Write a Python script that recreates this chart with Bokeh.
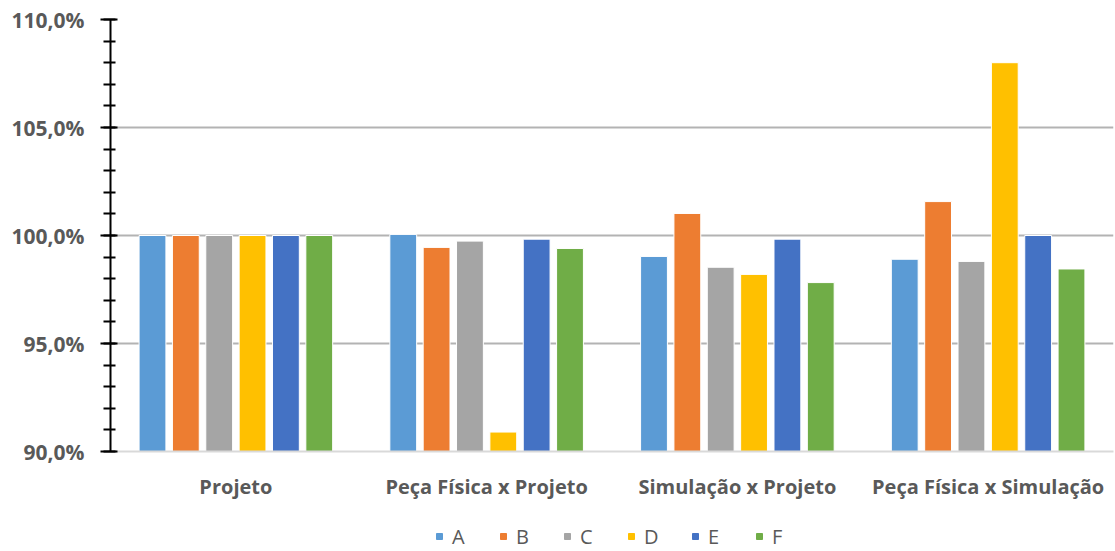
from bokeh.plotting import figure
from bokeh.layouts import column
from bokeh.models import (ColumnDataSource, FactorRange, Range1d, Legend, LegendItem,
                          SingleIntervalTicker)
from bokeh.transform import dodge
from bokeh.embed import file_html
from bokeh.resources import INLINE

categories = ["Projeto", "Peça Física x Projeto", "Simulação x Projeto", "Peça Física x Simulação"]
series = ["A", "B", "C", "D", "E", "F"]
A = [100.0, 100.05, 99.03, 98.9]
B = [100.0, 99.45, 101.02, 101.57]
C = [100.0, 99.74, 98.53, 98.8]
D = [100.0, 90.9, 98.2, 108.0]
E = [100.0, 99.83, 99.83, 100.0]
F = [100.0, 99.4, 97.82, 98.45]
colors = ["#5B9BD5", "#ED7D31", "#A5A5A5", "#FFC000", "#4472C4", "#70AD47"]
y_ticks = [90, 95, 100, 105, 110]
y_tick_labels = ["90,0%", "95,0%", "100,0%", "105,0%", "110,0%"]

source = ColumnDataSource(dict(cat=categories, A=A, B=B, C=C, D=D, E=E, F=F))

FONT = "Open Sans"
TXT = "#595959"

p = figure(frame_width=1003, frame_height=432, output_backend="svg", toolbar_location=None,
           x_range=FactorRange(*categories), y_range=Range1d(90, 110),
           min_border_left=110, min_border_right=2, min_border_top=19, min_border_bottom=70)
p.outline_line_color = None

pitch = 0.133
for i, s in enumerate(series):
    off = (i - 2.5) * pitch
    p.vbar(x=dodge("cat", off, range=p.x_range), top=s, bottom=90, width=0.107,
           source=source, fill_color=colors[i], line_color="white", line_width=1)

# y axis
p.yaxis.ticker = SingleIntervalTicker(interval=5, num_minor_ticks=5)
p.yaxis.major_label_overrides = {t: l for t, l in zip(y_ticks, y_tick_labels)}
p.yaxis.axis_line_color = "black"
p.yaxis.axis_line_width = 2
p.yaxis.major_tick_line_color = "black"
p.yaxis.major_tick_line_width = 2
p.yaxis.minor_tick_line_color = "black"
p.yaxis.minor_tick_line_width = 2
p.yaxis.major_tick_in = 7
p.yaxis.major_tick_out = 10
p.yaxis.minor_tick_in = 5
p.yaxis.minor_tick_out = 7
p.yaxis.major_label_text_font = FONT
p.yaxis.major_label_text_font_style = "bold"
p.yaxis.major_label_text_font_size = "21px"
p.yaxis.major_label_text_color = TXT
p.yaxis.major_label_standoff = 16

# x axis
p.xaxis.axis_line_color = "#D9D9D9"
p.xaxis.axis_line_width = 2
p.xaxis.major_tick_line_color = None
p.xaxis.minor_tick_line_color = None
p.xaxis.major_label_text_font = FONT
p.xaxis.major_label_text_font_style = "bold"
p.xaxis.major_label_text_font_size = "20px"
p.xaxis.major_label_text_color = TXT
p.xaxis.major_label_standoff = 15

p.xgrid.grid_line_color = None
p.ygrid.grid_line_color = "#B3B3B3"
p.ygrid.grid_line_width = 2

# legend strip (legend-only renderers sit outside the strip's visible range)
q = figure(width=1115, height=30, output_backend="svg", toolbar_location=None,
           x_range=Range1d(0, 1), y_range=Range1d(0, 1),
           min_border_left=26, min_border_right=0, min_border_top=0, min_border_bottom=0)
q.axis.visible = False
q.grid.grid_line_color = None
q.outline_line_color = None
items = []
for i, s in enumerate(series):
    r = q.scatter(x=[-5], y=[-5], marker="square", size=15, fill_color=colors[i],
                  line_color=colors[i])
    items.append(LegendItem(label=s, renderers=[r]))

legend = Legend(items=items, orientation="horizontal", location="center")
legend.label_text_font = FONT
legend.label_text_font_size = "20px"
legend.label_text_color = TXT
legend.glyph_width = 15
legend.glyph_height = 15
legend.spacing = 23
legend.label_standoff = 6
legend.border_line_color = None
legend.background_fill_alpha = 0
legend.padding = 0
legend.margin = 0
q.add_layout(legend)

layout = column(p, q, spacing=0)
open("out.html", "w").write(file_html(layout, INLINE))
